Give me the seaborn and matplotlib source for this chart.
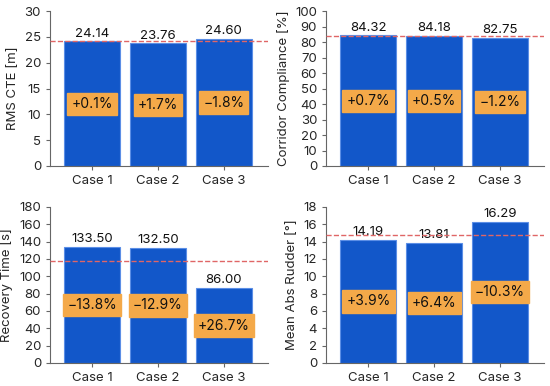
import numpy as np
import pandas as pd
import seaborn as sns
import matplotlib.pyplot as plt

cases = ["Case 1", "Case 2", "Case 3"]
rms_cte = [24.14, 23.76, 24.60]
corridor = [84.32, 84.18, 82.75]
recovery = [133.50, 132.50, 86.00]
rudder = [14.19, 13.81, 16.29]

rms_pct = ["+0.1%", "+1.7%", "\u22121.8%"]
corridor_pct = ["+0.7%", "+0.5%", "\u22121.2%"]
recovery_pct = ["\u221213.8%", "\u221212.9%", "+26.7%"]
rudder_pct = ["+3.9%", "+6.4%", "\u221210.3%"]

# baselines (dashed lines)
baselines = [24.16, 83.7, 117.4, 14.77]

ylabels = ["RMS CTE [m]", "Corridor Compliance [%]", "Recovery Time [s]", "Mean Abs Rudder [\u00b0]"]
ylims = [(0, 30), (0, 100), (0, 180), (0, 18)]
yticks = [np.arange(0, 31, 5), np.arange(0, 101, 10), np.arange(0, 181, 20), np.arange(0, 19, 2)]

sns.set_style("ticks")
plt.rcParams['font.family'] = ['Inter', 'DejaVu Sans']

fig = plt.figure(figsize=(5.5, 3.86), dpi=100)
pos = [[0.091, 0.570, 0.396, 0.401],
       [0.593, 0.570, 0.396, 0.401],
       [0.091, 0.060, 0.396, 0.404],
       [0.593, 0.060, 0.396, 0.404]]

series = [rms_cte, corridor, recovery, rudder]
pcts = [rms_pct, corridor_pct, recovery_pct, rudder_pct]

for i in range(4):
    ax = fig.add_axes(pos[i])
    df = pd.DataFrame({"case": cases, "val": series[i]})
    sns.barplot(data=df, x="case", y="val", ax=ax, color="#1257C9",
                saturation=1, width=0.85, edgecolor="#5B8EE6", linewidth=0.8)
    ax.axhline(baselines[i], color="#E06666", ls="--", lw=1.0, zorder=5)
    for j, v in enumerate(series[i]):
        ax.text(j, v + ylims[i][1] * 0.012, f"{v:.2f}", ha="center", va="bottom", fontsize=9.5, color="#111111")
        ax.text(j, v / 2, pcts[i][j], ha="center", va="center", fontsize=10, color="#111111",
                bbox=dict(boxstyle="square,pad=0.3", fc="#F4A949", ec="#F4A949"))
    ax.set_ylim(*ylims[i])
    ax.set_yticks(yticks[i])
    ax.set_xlim(-0.64, 2.67)
    ax.set_xlabel("")
    ax.set_ylabel(ylabels[i], fontsize=9.5)
    ax.tick_params(labelsize=9.5, color="#666666", length=3)
    sns.despine(ax=ax)
    for s in ["left", "bottom"]:
        ax.spines[s].set_color("#666666")

fig.savefig("out.png", dpi=100)
